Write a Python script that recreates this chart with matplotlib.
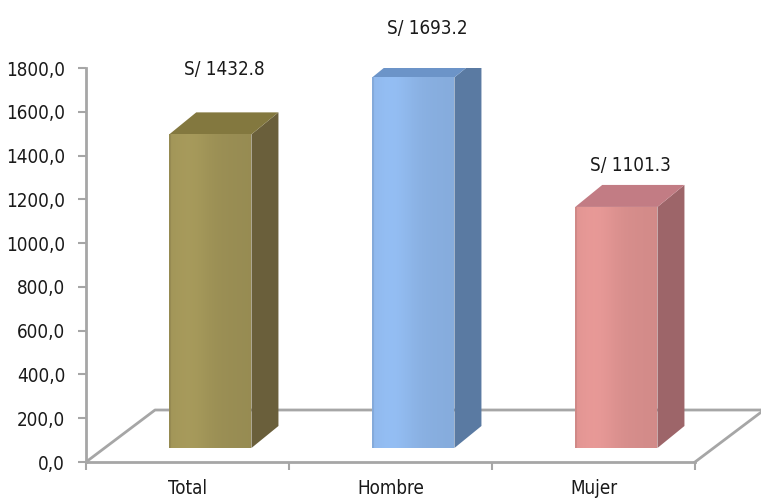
import matplotlib
matplotlib.use("Agg")
import matplotlib.pyplot as plt
import numpy as np
from matplotlib import font_manager
from matplotlib.patches import Polygon
from matplotlib.colors import to_rgb
from matplotlib.ticker import FuncFormatter

categories = ["Total", "Hombre", "Mujer"]
values = [1432.8, 1693.2, 1101.3]
value_labels = ["S/ 1432.8", "S/ 1693.2", "S/ 1101.3"]

front_colors = ["#9f9357", "#8db5e8", "#dd9290"]
top_colors = ["#83783f", "#6c94c8", "#c27c84"]
side_colors = ["#6a5f3b", "#5a7aa2", "#9d6569"]

# the original uses a narrow face; use a condensed one if the system has it
condensed = [f for f in font_manager.fontManager.ttflist
             if f.name == "DejaVu Sans" and "ondensed" in str(f.stretch)]
if condensed:
    plt.rcParams["font.family"] = ["DejaVu Sans"]
    plt.rcParams["font.stretch"] = "condensed"
else:
    plt.rcParams["font.family"] = ["Liberation Sans", "DejaVu Sans"]
fs = 13.5

fig = plt.figure(figsize=(7.61, 4.98), dpi=100)
ax = fig.add_axes([86 / 761, 36 / 498, 609 / 761, 394 / 498])
ax.set_xlim(0, 3)
ax.set_ylim(0, 1800)

# pixel -> data helpers
px_x = 3 / 609
px_y = 1800 / 394

grey = "#a6a6a6"

# floor
fdx, fdy = 69 * px_x, 52 * px_y
ax.plot([0, fdx, 3 + fdx], [0, fdy, fdy], color=grey, lw=2, clip_on=False, zorder=1)
ax.plot([3, 3 + fdx], [0, fdy], color=grey, lw=2, clip_on=False, zorder=1)

# 3d bars
base = 14 * px_y
bdx, bdy = 27 * px_x, 22 * px_y
width = 0.405
label_lift = [196, 124, 91]
u = np.linspace(0, 1, 80)
light = 0.06 * np.exp(-((u - 0.25) / 0.25) ** 2) - 0.05 * u
light[:2] -= 0.08
for i, v in enumerate(values):
    x0 = i + 0.41
    x1 = x0 + width
    y0, y1 = base, base + v
    front = Polygon([(x0, y0), (x1, y0), (x1, y1), (x0, y1)], closed=True,
                    fc=front_colors[i], ec="none", zorder=3)
    ax.add_patch(front)
    rgb = np.array(to_rgb(front_colors[i]))
    cols = np.clip(rgb[None, :] * (1 + light[:, None]), 0, 1)
    img = ax.imshow(cols[None, :, :], extent=[x0, x1, y0, y1], aspect="auto",
                    zorder=3.1, interpolation="bilinear")
    img.set_clip_path(front)
    side = Polygon([(x1, y0), (x1 + bdx, y0 + bdy), (x1 + bdx, y1 + bdy), (x1, y1)],
                   closed=True, fc=side_colors[i], ec="none", zorder=3)
    ax.add_patch(side)
    top = Polygon([(x0, y1), (x1, y1), (x1 + bdx, y1 + bdy), (x0 + bdx, y1 + bdy)],
                  closed=True, fc=top_colors[i], ec="none", zorder=3)
    ax.add_patch(top)
    ax.text(i + 0.68, y1 + bdy + label_lift[i], value_labels[i], ha="center",
            va="center", fontsize=fs, color="#1a1a1a", clip_on=False)

ax.set_xlim(0, 3)
ax.set_ylim(0, 1800)

for s in ["top", "right"]:
    ax.spines[s].set_visible(False)
ax.spines["left"].set_color(grey)
ax.spines["left"].set_linewidth(2)
ax.spines["bottom"].set_color(grey)
ax.spines["bottom"].set_linewidth(2)

ax.set_yticks(np.arange(0, 1801, 200))
ax.yaxis.set_major_formatter(FuncFormatter(lambda v, p: f"{v:.1f}".replace(".", ",")))
ax.tick_params(axis="y", length=6, width=1.5, color=grey, pad=9, labelsize=fs,
               labelcolor="#1a1a1a")

ax.set_xticks([0, 1, 2, 3])
ax.set_xticklabels([])
ax.set_xticks([0.5, 1.5, 2.5], minor=True)
ax.set_xticklabels(categories, minor=True)
ax.tick_params(axis="x", which="major", length=6, width=1.5, color=grey)
ax.tick_params(axis="x", which="minor", length=0, pad=12, labelsize=fs,
               labelcolor="#1a1a1a")

fig.savefig("out.png", dpi=100)
